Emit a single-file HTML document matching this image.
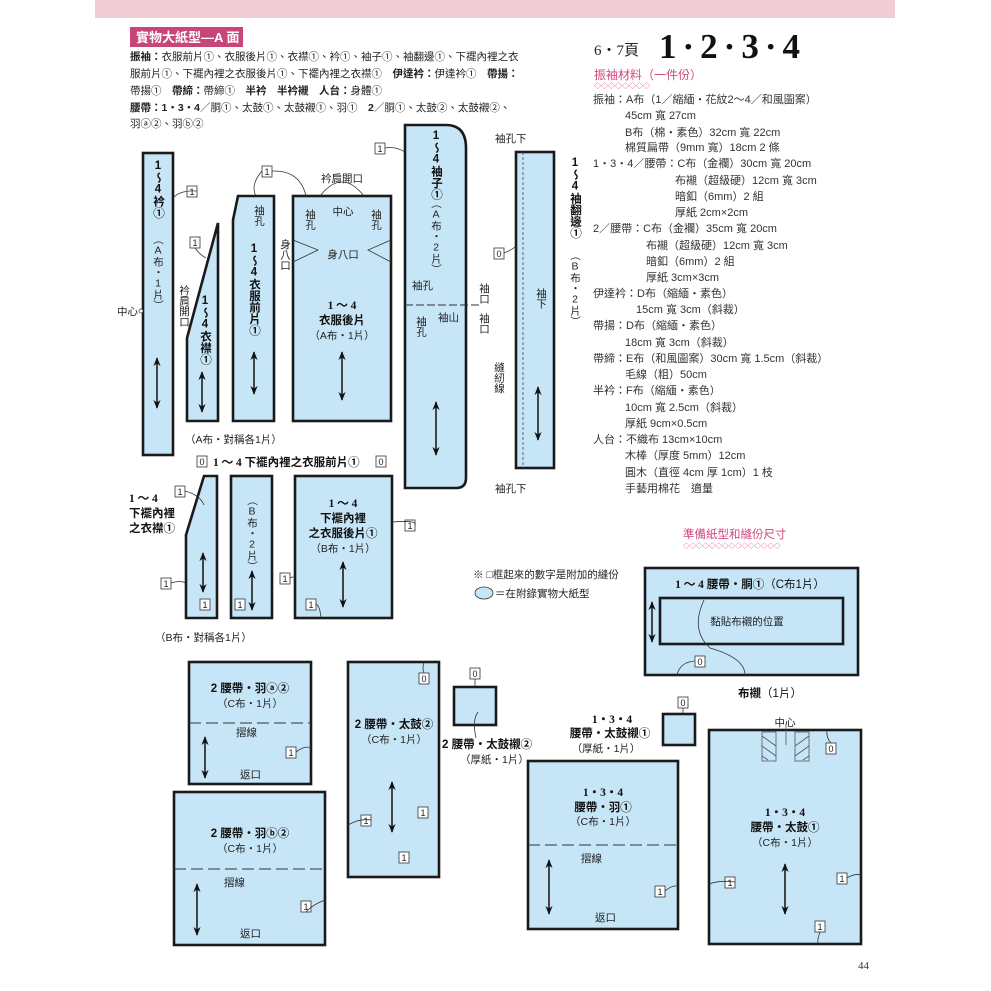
<!DOCTYPE html>
<html><head><meta charset="utf-8"><style>
html,body{margin:0;padding:0;background:#fff;}
svg{display:block;font-family:"Liberation Sans","Noto Sans CJK TC",sans-serif;}
.p{fill:#c6e6f8;stroke:#1a1a1a;stroke-width:2.6;}
.t{font-size:10.5px;fill:#222;}
.b{font-size:11.5px;font-weight:bold;fill:#111;}
.v{writing-mode:vertical-rl;text-orientation:upright;}
.c{text-anchor:middle;}
.ln{stroke:#333;stroke-width:0.8;fill:none;}
.bx{fill:#fff;stroke:#333;stroke-width:0.8;}
.bn{font-size:9px;fill:#222;text-anchor:middle;}
.ar{stroke:#111;stroke-width:1.5;marker-start:url(#a);marker-end:url(#a);}
.m{font-size:11px;fill:#333;}
</style></head><body>
<svg width="991" height="991" viewBox="0 0 991 991" xmlns="http://www.w3.org/2000/svg">
<defs><marker id="a" viewBox="0 0 10 10" refX="9" refY="5" markerWidth="6" markerHeight="6" orient="auto-start-reverse"><path d="M0,1 L10,5 L0,9 L3,5z" fill="#111"/></marker></defs>
<rect x="95" y="0" width="800" height="18" fill="#f0cdd6"/>
<rect x="130" y="27" width="113" height="20" fill="#c8457a"/>
<text x="136" y="42" font-size="13" font-weight="bold" fill="#fff">實物大紙型—A 面</text>
<g font-size="10.5" fill="#222">
<text x="130" y="60"><tspan font-weight="bold">振袖：</tspan>衣服前片①、衣服後片①、衣襟①、衿①、袖子①、袖翻邊①、下襬內裡之衣</text>
<text x="130" y="77">服前片①、下襬內裡之衣服後片①、下襬內裡之衣襟①　<tspan font-weight="bold">伊達衿：</tspan>伊達衿①　<tspan font-weight="bold">帶揚：</tspan></text>
<text x="130" y="94">帶揚①　<tspan font-weight="bold">帶締：</tspan>帶締①　<tspan font-weight="bold">半衿　半衿襯　人台：</tspan>身體①</text>
<text x="130" y="111"><tspan font-weight="bold">腰帶：1・3・4</tspan>／胴①、太鼓①、太鼓襯①、羽①　<tspan font-weight="bold">2</tspan>／胴①、太鼓②、太鼓襯②、</text>
<text x="130" y="127">羽ⓐ②、羽ⓑ②</text>
</g>
<text x="594" y="55" font-size="15" fill="#222" font-family="Liberation Serif,serif">6・7頁</text>
<text x="659" y="58" font-size="35" font-weight="bold" fill="#111" font-family="Liberation Serif,serif" letter-spacing="6">1·2·3·4</text>
<text x="594" y="79" font-size="12" fill="#d0487e">振袖材料（一件份）</text>
<text x="594" y="88" font-size="7" fill="#d0487e">◇◇◇◇◇◇◇◇</text>
<g class="m">
<text x="593" y="103">振袖：A布（1／縮緬・花紋2～4／和風圖案）</text>
<text x="625" y="119">45cm 寬 27cm</text>
<text x="625" y="136">B布（棉・素色）32cm 寬 22cm</text>
<text x="625" y="151">棉質扁帶（9mm 寬）18cm 2 條</text>
<text x="593" y="167">1・3・4／腰帶：C布（金襴）30cm 寬 20cm</text>
<text x="675" y="184">布襯（超級硬）12cm 寬 3cm</text>
<text x="675" y="200">暗釦（6mm）2 組</text>
<text x="675" y="216">厚紙 2cm×2cm</text>
<text x="593" y="232">2／腰帶：C布（金襴）35cm 寬 20cm</text>
<text x="646" y="249">布襯（超級硬）12cm 寬 3cm</text>
<text x="646" y="265">暗釦（6mm）2 組</text>
<text x="646" y="281">厚紙 3cm×3cm</text>
<text x="593" y="297">伊達衿：D布（縮緬・素色）</text>
<text x="636" y="313">15cm 寬 3cm（斜裁）</text>
<text x="593" y="329">帶揚：D布（縮緬・素色）</text>
<text x="625" y="346">18cm 寬 3cm（斜裁）</text>
<text x="593" y="362">帶締：E布（和風圖案）30cm 寬 1.5cm（斜裁）</text>
<text x="625" y="378">毛線（粗）50cm</text>
<text x="593" y="394">半衿：F布（縮緬・素色）</text>
<text x="625" y="411">10cm 寬 2.5cm（斜裁）</text>
<text x="625" y="427">厚紙 9cm×0.5cm</text>
<text x="593" y="443">人台：不織布 13cm×10cm</text>
<text x="625" y="459">木棒（厚度 5mm）12cm</text>
<text x="625" y="476">圓木（直徑 4cm 厚 1cm）1 枝</text>
<text x="625" y="492">手藝用棉花　適量</text>
</g>
<rect class="p" x="143" y="153" width="30" height="302"/>
<polygon class="p" points="218,223 218,421 187,421 187,338"/>
<polygon class="p" points="238,196 274,196 274,421 233,421 233,220"/>
<rect class="p" x="293" y="196" width="98" height="225"/>
<path class="p" d="M405,125 H446 Q466,125 466,148 V478 Q466,488 456,488 H405 Z"/>
<rect class="p" x="516" y="152" width="38" height="316"/>
<line x1="523" y1="152" x2="523" y2="468" stroke="#446" stroke-width="0.8" stroke-dasharray="3,2"/>
<polygon class="p" points="204,476 217,476 217,618 186,618 186,535"/>
<rect class="p" x="231" y="476" width="41" height="142"/>
<rect class="p" x="295" y="476" width="97" height="142"/>
<rect class="p" x="189" y="662" width="122" height="122"/>
<line x1="189" y1="723" x2="311" y2="723" stroke="#333" stroke-dasharray="12,5"/>
<rect class="p" x="174" y="792" width="151" height="153"/>
<line x1="174" y1="869" x2="325" y2="869" stroke="#333" stroke-dasharray="12,5"/>
<rect class="p" x="348" y="662" width="91" height="215"/>
<rect class="p" x="454" y="687" width="42" height="38"/>
<rect class="p" x="645" y="568" width="213" height="107"/>
<rect class="p" x="660" y="598" width="183" height="46"/>
<rect class="p" x="663" y="714" width="32" height="31"/>
<rect class="p" x="528" y="761" width="150" height="168"/>
<line x1="528" y1="845" x2="678" y2="845" stroke="#333" stroke-dasharray="12,5"/>
<rect class="p" x="709" y="730" width="152" height="214"/>
<g stroke="#555" stroke-width="0.8" fill="none">
<rect x="762" y="732" width="14" height="29"/>
<path d="M762,736 L776,746 M762,746 L776,756 M762,756 L768,760"/>
<rect x="795" y="732" width="14" height="29"/>
<path d="M809,736 L795,746 M809,746 L795,756 M809,756 L803,760"/>
<line x1="786" y1="725" x2="786" y2="745"/>
</g>
<line class="ar" x1="157" y1="358" x2="157" y2="408"/>
<line class="ar" x1="202" y1="372" x2="202" y2="412"/>
<line class="ar" x1="254" y1="352" x2="254" y2="394"/>
<line class="ar" x1="342" y1="352" x2="342" y2="400"/>
<line class="ar" x1="436" y1="402" x2="436" y2="455"/>
<line class="ar" x1="538" y1="387" x2="538" y2="440"/>
<line class="ar" x1="203" y1="553" x2="203" y2="592"/>
<line class="ar" x1="252" y1="571" x2="252" y2="610"/>
<line class="ar" x1="343" y1="562" x2="343" y2="607"/>
<line class="ar" x1="205" y1="737" x2="205" y2="778"/>
<line class="ar" x1="197" y1="884" x2="197" y2="935"/>
<line class="ar" x1="392" y1="782" x2="392" y2="832"/>
<line class="ar" x1="652" y1="602" x2="652" y2="642"/>
<line class="ar" x1="549" y1="860" x2="549" y2="914"/>
<line class="ar" x1="785" y1="864" x2="785" y2="914"/>
<text class="b v" x="158" y="160">1～4衿①</text>
<text class="t v" x="158" y="234" font-size="10">（A布・1片）</text>
<text class="t" x="117" y="315">中心</text><circle cx="141" cy="311" r="2" fill="#fff" stroke="#333" stroke-width="0.7"/>
<text class="t v" x="184" y="285" font-size="9.5">衿肩開口</text>
<text class="b v" x="205" y="295">1～4衣襟①</text>
<text class="b v" x="254" y="243">1～4衣服前片①</text>
<text class="t v" x="259" y="205">袖孔</text>
<text class="t v" x="285" y="239">身八口</text>
<text class="t c" x="342" y="182">衿肩開口</text>
<text class="t c" x="343" y="215">中心</text>
<text class="t v" x="310" y="209">袖孔</text>
<text class="t v" x="376" y="209">袖孔</text>
<text class="t c" x="343" y="258">身八口</text>
<path class="ln" d="M293,240 L318,250 L293,262 M391,240 L368,250 L391,262"/>
<text class="b c" x="342" y="309" font-family="Liberation Serif,serif">1 ～ 4</text>
<text class="b c" x="342" y="324">衣服後片</text>
<text class="t c" x="342" y="339">（A布・1片）</text>
<text class="b v" x="436" y="130">1～4袖子①</text>
<text class="t v" x="436" y="198" font-size="10">（A布・2片）</text>
<text class="t" x="412" y="289">袖孔</text>
<line x1="405" y1="305" x2="480" y2="305" stroke="#333" stroke-dasharray="8,3"/>
<text class="t" x="438" y="321">袖山</text>
<text class="t v" x="421" y="316">袖孔</text>
<text class="t v" x="484" y="283">袖口</text>
<text class="t v" x="484" y="313">袖口</text>
<text class="b v" x="575" y="157">1～4袖翻邊①</text>
<text class="t v" x="575" y="250" font-size="10">（B布・2片）</text>
<text class="t" x="495" y="142">袖孔下</text>
<text class="t" x="495" y="492">袖孔下</text>
<text class="t v" x="541" y="288">袖下</text>
<text class="t v" x="499" y="362">縫紉線</text>
<text class="t" x="185" y="443">（A布・對稱各1片）</text>
<text class="b" x="213" y="466"><tspan font-family="Liberation Serif,serif">1 ～ 4 </tspan>下襬內裡之衣服前片①</text>
<text class="b" x="129" y="502" font-family="Liberation Serif,serif">1 ～ 4</text>
<text class="b" x="129" y="517">下襬內裡</text>
<text class="b" x="129" y="532">之衣襟①</text>
<text class="t v" x="252" y="495">（B布・2片）</text>
<text class="b c" x="343" y="507" font-family="Liberation Serif,serif">1 ～ 4</text>
<text class="b c" x="343" y="522">下襬內裡</text>
<text class="b c" x="343" y="537">之衣服後片①</text>
<text class="t c" x="343" y="552">（B布・1片）</text>
<text class="t" x="155" y="641">（B布・對稱各1片）</text>
<text class="b c" x="250" y="692">2 腰帶・羽ⓐ②</text>
<text class="t c" x="250" y="707">（C布・1片）</text>
<text class="t" x="236" y="736">摺線</text>
<text class="t" x="240" y="778">返口</text>
<text class="b c" x="250" y="837">2 腰帶・羽ⓑ②</text>
<text class="t c" x="250" y="852">（C布・1片）</text>
<text class="t" x="224" y="886">摺線</text>
<text class="t" x="240" y="937">返口</text>
<text class="b c" x="394" y="728">2 腰帶・太鼓②</text>
<text class="t c" x="394" y="743">（C布・1片）</text>
<text class="b" x="442" y="748">2 腰帶・太鼓襯②</text>
<text class="t" x="460" y="763">（厚紙・1片）</text>
<text class="t" x="473" y="578">※ □框起來的數字是附加的縫份</text>
<ellipse cx="484" cy="593" rx="9" ry="6" fill="#c6e6f8" stroke="#333" stroke-width="0.8"/>
<text class="t" x="495" y="597">＝在附錄實物大紙型</text>
<text x="683" y="538" font-size="11.5" fill="#d0487e">準備紙型和縫份尺寸</text>
<text x="683" y="548" font-size="6.5" fill="#d0487e">◇◇◇◇◇◇◇◇◇◇◇◇◇◇◇</text>
<text class="b c" x="750" y="588"><tspan font-family="Liberation Serif,serif">1 ～ 4 </tspan>腰帶・胴①<tspan font-weight="normal">（C布1片）</tspan></text>
<text class="t c" x="747" y="625">黏貼布襯的位置</text>
<text class="b c" x="770" y="697">布襯<tspan font-weight="normal">（1片）</tspan></text>
<text class="b c" x="612" y="723" font-family="Liberation Serif,serif">1・3・4</text>
<text class="b c" x="610" y="737">腰帶・太鼓襯①</text>
<text class="t c" x="606" y="752">（厚紙・1片）</text>
<text class="t c" x="785" y="726">中心</text>
<text class="b c" x="603" y="796" font-family="Liberation Serif,serif">1・3・4</text>
<text class="b c" x="603" y="811">腰帶・羽①</text>
<text class="t c" x="603" y="825">（C布・1片）</text>
<text class="t" x="581" y="862">摺線</text>
<text class="t" x="595" y="921">返口</text>
<text class="b c" x="785" y="816" font-family="Liberation Serif,serif">1・3・4</text>
<text class="b c" x="785" y="831">腰帶・太鼓①</text>
<text class="t c" x="785" y="846">（C布・1片）</text>
<text x="858" y="969" font-size="11" fill="#333" font-family="Liberation Serif,serif">44</text>
<g>
<rect class="bx" x="375" y="143" width="10" height="11"/><text class="bn" x="380" y="152">1</text>
<rect class="bx" x="187" y="186" width="10" height="11"/><text class="bn" x="192" y="195">1</text>
<rect class="bx" x="190" y="237" width="10" height="11"/><text class="bn" x="195" y="246">1</text>
<rect class="bx" x="262" y="166" width="10" height="11"/><text class="bn" x="267" y="175">1</text>
<rect class="bx" x="494" y="248" width="10" height="11"/><text class="bn" x="499" y="257">0</text>
<rect class="bx" x="197" y="456" width="10" height="11"/><text class="bn" x="202" y="465">0</text>
<rect class="bx" x="376" y="456" width="10" height="11"/><text class="bn" x="381" y="465">0</text>
<rect class="bx" x="175" y="486" width="10" height="11"/><text class="bn" x="180" y="495">1</text>
<rect class="bx" x="161" y="578" width="10" height="11"/><text class="bn" x="166" y="587">1</text>
<rect class="bx" x="200" y="599" width="10" height="11"/><text class="bn" x="205" y="608">1</text>
<rect class="bx" x="235" y="599" width="10" height="11"/><text class="bn" x="240" y="608">1</text>
<rect class="bx" x="280" y="573" width="10" height="11"/><text class="bn" x="285" y="582">1</text>
<rect class="bx" x="306" y="599" width="10" height="11"/><text class="bn" x="311" y="608">1</text>
<rect class="bx" x="405" y="520" width="10" height="11"/><text class="bn" x="410" y="529">1</text>
<rect class="bx" x="286" y="747" width="10" height="11"/><text class="bn" x="291" y="756">1</text>
<rect class="bx" x="419" y="673" width="10" height="11"/><text class="bn" x="424" y="682">0</text>
<rect class="bx" x="361" y="815" width="10" height="11"/><text class="bn" x="366" y="824">1</text>
<rect class="bx" x="418" y="807" width="10" height="11"/><text class="bn" x="423" y="816">1</text>
<rect class="bx" x="399" y="852" width="10" height="11"/><text class="bn" x="404" y="861">1</text>
<rect class="bx" x="470" y="668" width="10" height="11"/><text class="bn" x="475" y="677">0</text>
<rect class="bx" x="301" y="901" width="10" height="11"/><text class="bn" x="306" y="910">1</text>
<rect class="bx" x="695" y="656" width="10" height="11"/><text class="bn" x="700" y="665">0</text>
<rect class="bx" x="678" y="697" width="10" height="11"/><text class="bn" x="683" y="706">0</text>
<rect class="bx" x="655" y="886" width="10" height="11"/><text class="bn" x="660" y="895">1</text>
<rect class="bx" x="826" y="743" width="10" height="11"/><text class="bn" x="831" y="752">0</text>
<rect class="bx" x="725" y="877" width="10" height="11"/><text class="bn" x="730" y="886">1</text>
<rect class="bx" x="837" y="873" width="10" height="11"/><text class="bn" x="842" y="882">1</text>
<rect class="bx" x="815" y="921" width="10" height="11"/><text class="bn" x="820" y="930">1</text>
</g>
<g class="ln">
<path d="M385,148 Q395,146 405,152"/><path d="M197,191 Q180,190 173,198"/><path d="M195,248 Q200,255 206,258"/>
<path d="M262,171 Q250,185 256,196"/><path d="M272,171 Q300,170 306,196"/><path d="M320,196 Q342,168 364,196"/>
<path d="M504,253 Q512,250 516,246"/><path d="M185,491 Q200,495 204,505"/><path d="M171,583 Q180,580 186,583"/>
<path d="M290,578 Q293,576 295,578"/><path d="M316,604 Q320,606 321,618"/><path d="M415,525 Q418,520 392,522"/>
<path d="M296,752 Q305,745 311,748"/><path d="M424,673 Q422,668 424,662"/><path d="M371,820 Q360,818 348,825"/>
<path d="M475,679 V687"/><path d="M306,912 Q312,905 325,900"/><path d="M695,661 Q680,662 677,675"/>
<path d="M683,708 V714"/><path d="M665,891 Q672,885 678,886"/><path d="M831,743 Q826,738 827,730"/>
<path d="M735,882 Q720,880 709,884"/><path d="M847,878 Q855,873 861,875"/><path d="M820,932 Q817,940 818,944"/>
<path d="M704,600 Q690,630 710,648 Q745,658 745,675"/>
<path d="M476,738 Q472,720 478,712"/>
</g>
</svg>
</body></html>
